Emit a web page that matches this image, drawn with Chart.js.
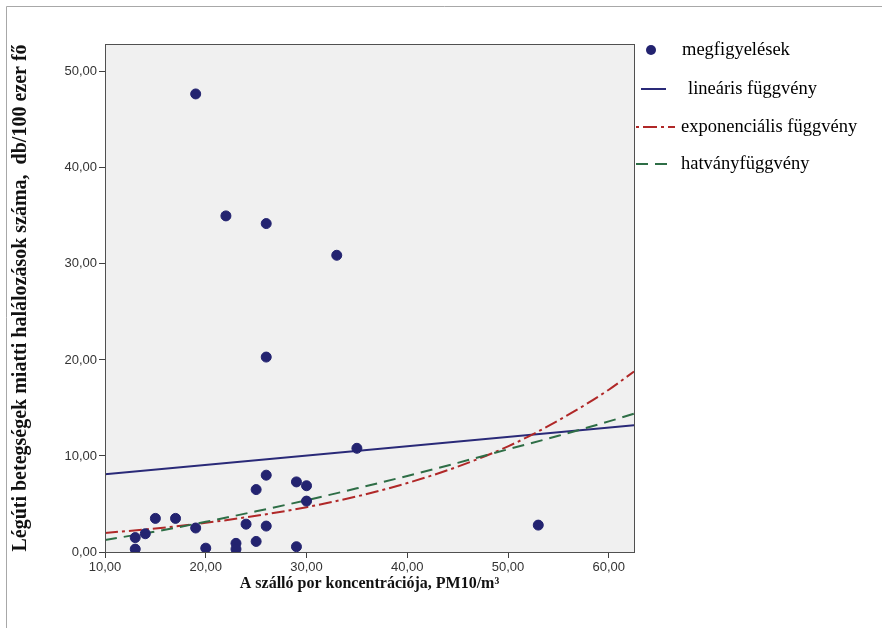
<!DOCTYPE html>
<html><head><meta charset="utf-8">
<script src="https://cdn.jsdelivr.net/npm/chart.js@4.4.1/dist/chart.umd.min.js"></script>
<style>html,body{margin:0;padding:0;background:#fff}#wrap{width:882px;height:628px;position:relative}</style>
</head><body><div id="wrap"><canvas id="c" width="882" height="628"></canvas></div>
<script>
// observed points (PM10 concentration, deaths per 100k)
const obsX = [19, 22, 26, 33, 26, 35, 26, 25, 29, 30, 30, 15, 17, 19, 14, 13, 13, 20, 23, 23, 24, 26, 25, 29, 53];
const obsY = [47.7, 35.0, 34.2, 30.9, 20.3, 10.8, 8.0, 6.5, 7.3, 6.9, 5.3, 3.5, 3.5, 2.5, 1.9, 1.5, 0.3, 0.4, 0.9, 0.3, 2.9, 2.7, 1.1, 0.55, 2.8];
// fitted curves
const linX = [10, 62.5];
const linY = [8.1, 13.2];
const curveX = [10, 15, 20, 25, 30, 35, 40, 45, 50, 55, 60, 62.5];
const expY = [1.98, 2.45, 3.04, 3.77, 4.67, 5.79, 7.18, 8.89, 11.0, 13.7, 16.9, 18.8];
const powY = [1.25, 2.14, 3.14, 4.24, 5.39, 6.63, 7.92, 9.28, 10.7, 12.1, 13.6, 14.4];
const xTicks = [10, 20, 30, 40, 50, 60];
const yTicks = [0, 10, 20, 30, 40, 50];
const labels = ['megfigyelések', 'lineáris függvény', 'exponenciális függvény', 'hatványfüggvény'];
const xTitle = 'A szálló por koncentrációja, PM10/m³';
const yTitle = 'Légúti betegségek miatti halálozások száma,  db/100 ezer fő';

const zip = (xs, ys) => xs.map((x, i) => ({x: x, y: ys[i]}));
const fmt = v => Number(v).toFixed(2).replace('.', ',');

const framePlugin = {
  id: 'frame',
  beforeDraw(chart) {
    const {ctx, chartArea: a} = chart;
    ctx.save();
    ctx.fillStyle = '#ffffff';
    ctx.fillRect(0, 0, chart.width, chart.height);
    ctx.fillStyle = '#f0f0f0';
    ctx.fillRect(a.left, a.top, a.right - a.left, a.bottom - a.top);
    ctx.strokeStyle = '#a8a8a8';
    ctx.lineWidth = 1;
    ctx.beginPath();
    ctx.moveTo(6.5, chart.height);
    ctx.lineTo(6.5, 6.5);
    ctx.lineTo(chart.width, 6.5);
    ctx.stroke();
    ctx.restore();
  },
  afterDatasetsDraw(chart) {
    const {ctx, chartArea: a} = chart;
    ctx.save();
    ctx.strokeStyle = '#505050';
    ctx.lineWidth = 1;
    ctx.strokeRect(Math.round(a.left) + 0.5, Math.round(a.top) + 0.5, Math.round(a.right - a.left), Math.round(a.bottom - a.top));
    ctx.restore();
  },
  afterDraw(chart) {
    const ctx = chart.ctx;
    const ds = chart.data.datasets;
    const rows = [50, 89, 127, 164];
    ctx.save();
    ctx.font = '18.5px "Liberation Serif"';
    ctx.textBaseline = 'middle';
    ds.forEach((d, i) => {
      const y = rows[i];
      if (i === 0) {
        ctx.fillStyle = d.backgroundColor;
        ctx.beginPath();
        ctx.arc(651, y, 5, 0, Math.PI * 2);
        ctx.fill();
      } else {
        ctx.strokeStyle = d.borderColor;
        ctx.lineWidth = d.borderWidth;
        ctx.setLineDash(i === 2 ? [3, 4, 14, 4] : (d.borderDash || []));
        const x0 = i === 1 ? 641 : 636;
        const x1 = i === 1 ? 666 : (i === 2 ? 675 : 668);
        ctx.beginPath();
        ctx.moveTo(x0, y);
        ctx.lineTo(x1, y);
        ctx.stroke();
        ctx.setLineDash([]);
      }
      ctx.fillStyle = '#000';
      ctx.fillText(d.label, i === 0 ? 682 : (i === 1 ? 688 : 681), y);
    });
    ctx.restore();
  }
};

new Chart(document.getElementById('c'), {
  type: 'scatter',
  data: {
    datasets: [
      {label: labels[0], data: zip(obsX, obsY), backgroundColor: '#232370', borderColor: '#232370', pointRadius: 5, pointHoverRadius: 5, showLine: false, order: 0},
      {label: labels[1], data: zip(linX, linY), showLine: true, borderColor: '#2a2a78', borderWidth: 2, pointRadius: 0, fill: false, order: 3},
      {label: labels[2], data: zip(curveX, expY), showLine: true, borderColor: '#b02828', borderWidth: 2, borderDash: [13, 4, 3, 4], pointRadius: 0, tension: 0.4, cubicInterpolationMode: 'monotone', fill: false, order: 2},
      {label: labels[3], data: zip(curveX, powY), showLine: true, borderColor: '#2e6e46', borderWidth: 2, borderDash: [12, 7], pointRadius: 0, tension: 0.4, cubicInterpolationMode: 'monotone', fill: false, order: 1}
    ]
  },
  options: {
    responsive: false,
    animation: false,
    devicePixelRatio: 1,
    layout: {padding: {left: 0, top: 44, right: 248, bottom: 31}},
    plugins: {legend: {display: false}, tooltip: {enabled: false}},
    scales: {
      x: {
        type: 'linear', min: 10, max: 62.5,
        afterFit(s) { s.height = 45; },
        afterBuildTicks(s) { s.ticks = xTicks.map(v => ({value: v})); },
        grid: {drawOnChartArea: false, drawTicks: true, tickLength: 6, color: '#404040'},
        border: {display: true, color: '#505050'},
        ticks: {color: '#333', font: {family: '"Liberation Sans"', size: 13}, padding: 2, callback: v => fmt(v), maxRotation: 0},
        title: {display: true, text: xTitle, color: '#111', font: {family: '"Liberation Serif"', size: 16, weight: 'bold'}, padding: {top: 4, bottom: 4}}
      },
      y: {
        type: 'linear', min: 0, max: 52.9,
        afterFit(s) { s.width = 105; },
        afterBuildTicks(s) { s.ticks = yTicks.map(v => ({value: v})); },
        grid: {drawOnChartArea: false, drawTicks: true, tickLength: 6, color: '#404040'},
        border: {display: true, color: '#505050'},
        ticks: {color: '#333', font: {family: '"Liberation Sans"', size: 13}, padding: 2, callback: v => fmt(v)},
        title: {display: true, text: yTitle, color: '#111', font: {family: '"Liberation Serif"', size: 20, weight: 'bold'}, padding: {top: 9, bottom: 4}}
      }
    }
  },
  plugins: [framePlugin]
});
</script></body></html>
